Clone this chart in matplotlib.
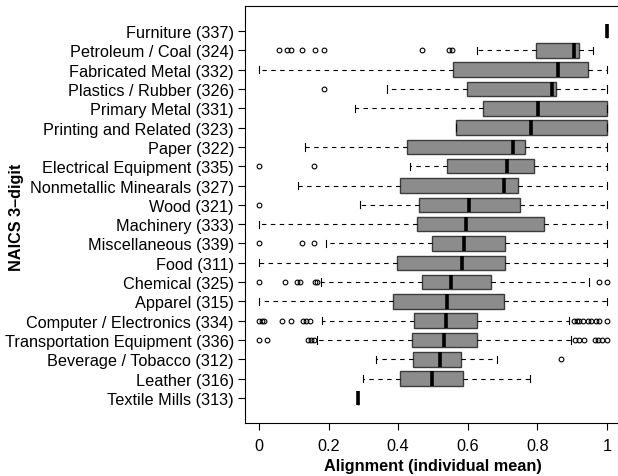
import matplotlib
matplotlib.use("Agg")
import matplotlib.pyplot as plt

plt.rcParams['font.family'] = ['Liberation Sans', 'DejaVu Sans']

# categories listed top to bottom, as in the figure
industries = [
    "Furniture (337)", "Petroleum / Coal (324)", "Fabricated Metal (332)",
    "Plastics / Rubber (326)", "Primary Metal (331)", "Printing and Related (323)",
    "Paper (322)", "Electrical Equipment (335)", "Nonmetallic Minearals (327)",
    "Wood (321)", "Machinery (333)", "Miscellaneous (339)", "Food (311)",
    "Chemical (325)", "Apparel (315)", "Computer / Electronics (334)",
    "Transportation Equipment (336)", "Beverage / Tobacco (312)",
    "Leather (316)", "Textile Mills (313)",
]
whisk_lo = [1.0, 0.627, 0.0, 0.369, 0.275, 0.567, 0.131, 0.433, 0.111, 0.290,
            0.0, 0.194, 0.0, 0.177, 0.0, 0.181, 0.167, 0.336, 0.298, 0.285]
q1 = [1.0, 0.795, 0.557, 0.599, 0.645, 0.567, 0.426, 0.541, 0.406, 0.459,
      0.453, 0.498, 0.397, 0.468, 0.385, 0.446, 0.440, 0.442, 0.405, 0.285]
median = [1.0, 0.904, 0.859, 0.842, 0.801, 0.782, 0.731, 0.712, 0.705, 0.603,
          0.595, 0.590, 0.584, 0.553, 0.541, 0.537, 0.532, 0.521, 0.496, 0.285]
q3 = [1.0, 0.918, 0.945, 0.854, 1.0, 1.0, 0.763, 0.789, 0.744, 0.751,
      0.820, 0.708, 0.706, 0.666, 0.705, 0.627, 0.626, 0.580, 0.587, 0.285]
whisk_hi = [1.0, 0.959, 1.0, 1.0, 1.0, 1.0, 1.0, 1.0, 1.0, 1.0,
            1.0, 1.0, 1.0, 0.947, 1.0, 0.890, 0.896, 0.683, 0.779, 0.285]
outliers = [
    [],
    [0.058, 0.082, 0.091, 0.125, 0.161, 0.187, 0.469, 0.547, 0.554],
    [],
    [0.187],
    [],
    [],
    [],
    [0.0, 0.157],
    [],
    [0.0],
    [],
    [0.0, 0.125, 0.157],
    [],
    [0.0, 0.076, 0.110, 0.118, 0.162, 0.168, 0.978, 1.0],
    [],
    [0.0, 0.008, 0.016, 0.067, 0.091, 0.127, 0.136, 0.148,
     0.906, 0.913, 0.920, 0.931, 0.944, 0.955, 0.967, 0.978, 1.0],
    [0.0, 0.023, 0.141, 0.149, 0.157, 0.909, 0.920, 0.933, 0.964, 0.974, 0.986, 1.0],
    [0.868],
    [],
    [],
]
xticks = [0, 0.2, 0.4, 0.6, 0.8, 1]
xticklabels = ["0", "0.2", "0.4", "0.6", "0.8", "1"]

n = len(industries)
stats = []
for i in range(n):
    stats.append(dict(whislo=whisk_lo[i], q1=q1[i], med=median[i], q3=q3[i],
                      whishi=whisk_hi[i], fliers=outliers[i], label=industries[i]))
positions = list(range(n, 0, -1))

fig = plt.figure(figsize=(6.18, 4.77), dpi=100)
ax = fig.add_axes([245 / 618, 53 / 477, 376 / 618, 417 / 477])

ax.bxp(stats, positions=positions, orientation='horizontal', widths=0.75,
       patch_artist=True, showfliers=True,
       boxprops=dict(facecolor='#8c8c8c', edgecolor='#3c3c3c', linewidth=1.0),
       medianprops=dict(color='black', linewidth=2.6, solid_capstyle='butt'),
       whiskerprops=dict(color='black', linewidth=0.8, linestyle=(0, (4, 4))),
       capprops=dict(color='black', linewidth=0.8),
       flierprops=dict(marker='o', markersize=3.4, markerfacecolor='none',
                       markeredgecolor='black', markeredgewidth=0.8))

ax.set_xlim(-0.04, 1.04)
ax.set_ylim(-0.3, n + 1.3)
ax.set_xticks(xticks)
ax.set_xticklabels(xticklabels)
ax.set_yticks(positions)
ax.set_yticklabels(industries)
ax.tick_params(axis='both', direction='out', length=5, width=0.8,
               labelsize=11.7, color='black')
ax.tick_params(axis='x', pad=6)
ax.tick_params(axis='y', pad=3)
for s in ax.spines.values():
    s.set_linewidth(0.8)
# right edge of the box falls outside the picture
ax.spines['right'].set_visible(False)

fig.text(433 / 618, 1 - 467 / 477, "Alignment (individual mean)",
         ha='center', va='center', fontsize=11.7, fontweight='bold')
fig.text(17 / 618, 1 - 217 / 477, "NAICS 3\u2013digit", rotation=90,
         ha='center', va='center', fontsize=11.7, fontweight='bold')

fig.savefig("out.png", dpi=100)
